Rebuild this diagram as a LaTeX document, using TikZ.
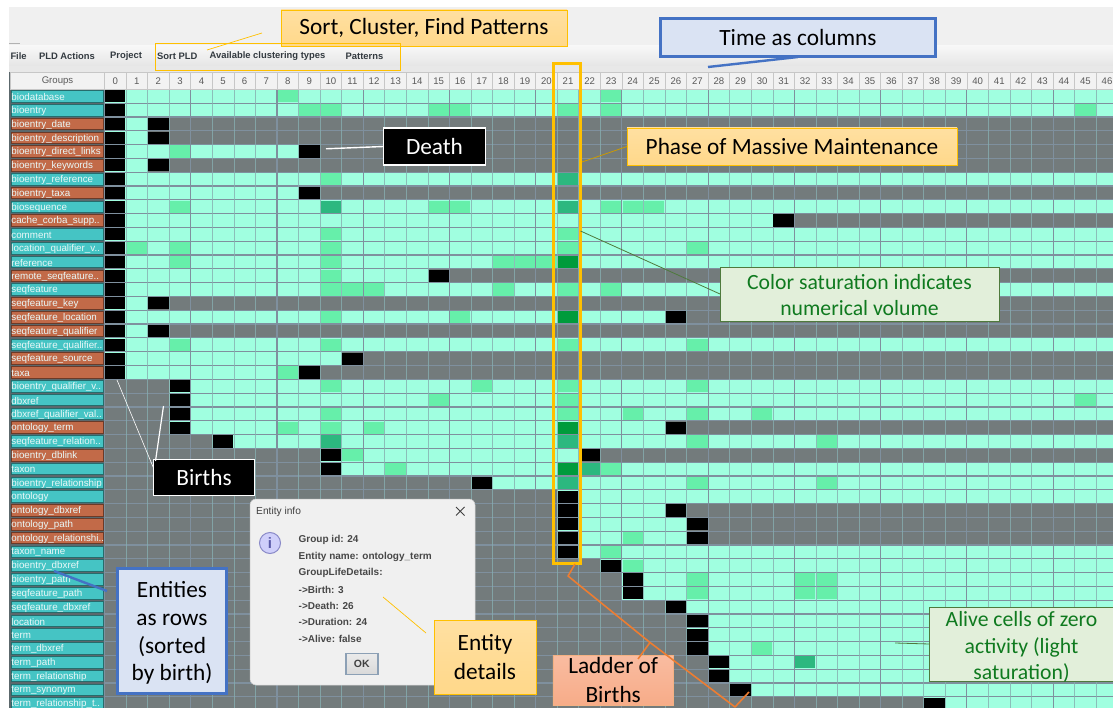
\documentclass[tikz,border=0pt]{standalone}
\usepackage{fontspec}
\setmainfont{Liberation Sans}
\newfontfamily\calloutfont{Carlito}
\usetikzlibrary{calc}
\definecolor{cellgrey}{HTML}{737B7C}
\definecolor{cellb}{HTML}{A0FFE0}
\definecolor{cellm}{HTML}{66EFAA}
\definecolor{celld}{HTML}{2CB87F}
\definecolor{cellg}{HTML}{009B3C}
\definecolor{teallab}{HTML}{45C4C4}
\definecolor{brownlab}{HTML}{C26A48}
\definecolor{gridc}{HTML}{7F909E}
\definecolor{gridfine}{HTML}{86AEB0}
\definecolor{gutter}{HTML}{5C686C}
\definecolor{amber}{HTML}{FFC000}
\definecolor{amberfill}{HTML}{FFD88A}
\definecolor{bluefill}{HTML}{DAE3F3}
\definecolor{blueline}{HTML}{4472C4}
\definecolor{greenfill}{HTML}{E2EFDA}
\definecolor{greentext}{HTML}{0F7A1F}
\definecolor{greenline}{HTML}{4E7A3C}
\definecolor{orangeline}{HTML}{ED7D31}
\definecolor{salmon}{HTML}{F8B090}
\definecolor{dialogbg}{HTML}{F0F0F0}
\definecolor{menutext}{HTML}{333A40}
\definecolor{okborder}{HTML}{8CA0B5}
\definecolor{iconfill}{HTML}{CFCFFA}
\definecolor{iconline}{HTML}{8A8AC8}
\definecolor{iconmark}{HTML}{5A5AA8}
\tikzset{
  labelbox/.style={draw=#1!55!black,line width=0.9pt,fill=#1,minimum width=92pt,minimum height=11.6pt,inner sep=0pt,outer sep=0pt},
  labeltext/.style={text=white!88!teallab,font=\fontsize{9.8}{11}\selectfont,anchor=west,inner sep=0pt},
  headcell/.style={draw=white!78!black,line width=0.6pt,fill=white!95!black,minimum width=21.56pt,minimum height=17pt,inner sep=0pt,text=black!65,font=\fontsize{9.6}{11}\selectfont},
  callout/.style={inner sep=0pt,outer sep=0pt,align=center,font=\calloutfont\fontsize{23.3}{28}\selectfont,text=black},
  amberbox/.style={callout,draw=amber,line width=0.9pt,top color=amberfill!80!white,bottom color=amberfill},
  bluebox/.style={callout,draw=blueline,line width=3pt,fill=bluefill},
  blackbox/.style={callout,draw=white,line width=1.6pt,fill=black,text=white},
  greenbox/.style={callout,draw=greenline,line width=0.8pt,fill=greenfill,text=greentext},
  greentextstyle/.style={callout,text=greentext},
  menuitem/.style={font=\bfseries\fontsize{9.4}{11}\selectfont,text=menutext,anchor=west,inner sep=0pt},
  dialogline/.style={font=\bfseries\fontsize{10}{12}\selectfont,text=black!72,anchor=west,inner sep=0pt},
  thinamber/.style={draw=amber,line width=0.7pt},
}
\begin{document}
\begin{tikzpicture}[x=1pt,y=-1pt]
\useasboundingbox (0,0) rectangle (1113,708);
\clip (0,0) rectangle (1113,708);
\fill[white] (0,0) rectangle (1113,708);
% window chrome
\fill[white!94!black] (9,7) rectangle (1113,72);
\fill[top color=white!97!black,bottom color=white!90!black] (9,46) rectangle (1113,66);
\fill[white!91!black] (9,66) rectangle (1113,72);
\fill[white!70!black] (9,43) rectangle (20,44);
\fill[gutter] (9,72) rectangle (1113,708);
\fill[cellgrey] (104.5,89.5) rectangle (1113,708);
% rows: index / birth / death / name / colour
\foreach \rw/\bn/\dt/\nm/\cl in {
 0/0/99/{biodatabase}/teallab,
 1/0/99/{bioentry}/teallab,
 2/0/2/{bioentry\_date}/brownlab,
 3/0/2/{bioentry\_description}/brownlab,
 4/0/9/{bioentry\_direct\_links}/brownlab,
 5/0/2/{bioentry\_keywords}/brownlab,
 6/0/99/{bioentry\_reference}/teallab,
 7/0/9/{bioentry\_taxa}/brownlab,
 8/0/99/{biosequence}/teallab,
 9/0/31/{cache\_corba\_supp..}/brownlab,
 10/0/99/{comment}/teallab,
 11/0/99/{location\_qualifier\_v..}/teallab,
 12/0/99/{reference}/teallab,
 13/0/15/{remote\_seqfeature..}/brownlab,
 14/0/99/{seqfeature}/teallab,
 15/0/2/{seqfeature\_key}/brownlab,
 16/0/26/{seqfeature\_location}/brownlab,
 17/0/2/{seqfeature\_qualifier}/brownlab,
 18/0/99/{seqfeature\_qualifier..}/teallab,
 19/0/11/{seqfeature\_source}/brownlab,
 20/0/9/{taxa}/brownlab,
 21/3/99/{bioentry\_qualifier\_v..}/teallab,
 22/3/99/{dbxref}/teallab,
 23/3/99/{dbxref\_qualifier\_val..}/teallab,
 24/3/26/{ontology\_term}/brownlab,
 25/5/99/{seqfeature\_relation..}/teallab,
 26/10/22/{bioentry\_dblink}/brownlab,
 27/10/99/{taxon}/teallab,
 28/17/99/{bioentry\_relationship}/teallab,
 29/21/99/{ontology}/teallab,
 30/21/26/{ontology\_dbxref}/brownlab,
 31/21/27/{ontology\_path}/brownlab,
 32/21/27/{ontology\_relationshi..}/brownlab,
 33/21/99/{taxon\_name}/teallab,
 34/23/99/{bioentry\_dbxref}/teallab,
 35/24/99/{bioentry\_path}/teallab,
 36/24/99/{seqfeature\_path}/teallab,
 37/26/99/{seqfeature\_dbxref}/teallab,
 38/27/99/{location}/teallab,
 39/27/99/{term}/teallab,
 40/27/99/{term\_dbxref}/teallab,
 41/28/99/{term\_path}/teallab,
 42/28/99/{term\_relationship}/teallab,
 43/29/99/{term\_synonym}/teallab,
 44/38/99/{term\_relationship\_t..}/teallab}{
  \pgfmathsetmacro\ya{89.5+13.8*\rw}
  \pgfmathsetmacro\yb{\ya+13.8}
  \pgfmathsetmacro\ym{\ya+6.9}
  \pgfmathsetmacro\yt{\ym+0.8}
  \pgfmathsetmacro\xa{104.5+21.56*\bn}
  \pgfmathsetmacro\xb{104.5+21.56*\dt}
  \fill[cellb] (\xa,\ya) rectangle (\xb,\yb);
  \node[labelbox=\cl] (lab\rw) at (57,\ym) {};
  \node[labeltext] (txt\rw) at (11.2,\yt) {\nm};
}
% grid
\foreach \rw in {0,...,45}{
  \pgfmathsetmacro\ya{89.5+13.8*\rw}
  \draw[gridc,line width=1.2pt] (104.5,\ya) -- (1113,\ya);
}
\foreach \cn in {0,...,47}{
  \pgfmathsetmacro\xa{104.5+21.56*\cn}
  \pgfmathtruncatemacro\md{mod(\cn,4)}
  \ifnum\md=0
    \draw[gridc,line width=1.1pt] (\xa,89.5) -- (\xa,708);
  \else
    \draw[gridfine,line width=0.7pt,opacity=0.8] (\xa,89.5) -- (\xa,708);
  \fi
}
% coloured cells: row / col / colour
\foreach \rw/\cn/\sh in {
 0/8/cellm,0/23/cellm,
 1/9/cellm,1/10/cellm,1/15/cellm,1/16/cellm,1/21/cellm,1/23/cellm,1/45/cellm,
 4/3/cellm,
 6/10/cellm,6/21/celld,
 8/3/cellm,8/10/celld,8/15/cellm,8/16/cellm,8/21/celld,8/23/cellm,8/24/cellm,8/25/cellm,
 10/10/cellm,10/21/cellm,
 11/1/cellm,11/3/cellm,11/10/cellm,11/21/cellm,11/27/cellm,
 12/3/cellm,12/10/cellm,12/18/cellm,12/19/cellm,12/20/cellm,12/21/cellg,
 13/10/cellm,
 14/10/cellm,14/11/cellm,14/12/cellm,14/18/cellm,14/21/cellm,14/23/cellm,
 16/10/cellm,16/16/cellm,16/21/cellg,
 18/3/cellm,18/10/cellm,18/21/cellm,18/27/cellm,
 20/8/cellm,
 21/10/cellm,21/17/cellm,21/21/cellm,21/27/cellm,
 22/15/cellm,22/21/cellm,22/45/cellm,
 23/10/cellm,23/21/cellm,23/24/cellm,23/27/cellm,23/30/cellm,
 24/8/cellm,24/10/cellm,24/12/cellm,24/21/cellg,
 25/10/celld,25/21/celld,25/27/cellm,25/33/cellm,
 26/11/cellm,
 27/13/cellm,27/21/cellg,27/22/celld,27/23/cellm,
 28/21/celld,28/27/cellm,28/33/cellm,
 32/24/cellm,33/23/cellm,34/24/cellm,
 35/27/cellm,35/32/cellm,35/33/cellm,
 36/27/cellm,36/32/cellm,36/33/cellm,
 40/30/cellm,41/32/celld,
 %% black: births and deaths
 0/0/black,1/0/black,2/0/black,3/0/black,4/0/black,5/0/black,6/0/black,7/0/black,8/0/black,9/0/black,
 10/0/black,11/0/black,12/0/black,13/0/black,14/0/black,15/0/black,16/0/black,17/0/black,18/0/black,19/0/black,20/0/black,
 2/2/black,3/2/black,5/2/black,15/2/black,17/2/black,
 4/9/black,7/9/black,20/9/black,9/31/black,13/15/black,16/26/black,19/11/black,
 21/3/black,22/3/black,23/3/black,24/3/black,24/26/black,25/5/black,
 26/10/black,26/22/black,27/10/black,28/17/black,
 29/21/black,30/21/black,31/21/black,32/21/black,33/21/black,
 30/26/black,31/27/black,32/27/black,
 34/23/black,35/24/black,36/24/black,37/26/black,
 38/27/black,39/27/black,40/27/black,41/28/black,42/28/black,43/29/black,44/38/black}{
  \pgfmathsetmacro\xa{104.5+21.56*\cn+0.6}
  \pgfmathsetmacro\xb{\xa+20.36}
  \pgfmathsetmacro\ya{89.5+13.8*\rw+0.8}
  \pgfmathsetmacro\yb{\ya+12.2}
  \fill[\sh] (\xa,\ya) rectangle (\xb,\yb);
}
% header
\node[headcell,minimum width=93.5pt] (groupshead) at (57.5,80.8) {Groups};
\foreach \cn in {0,...,46}{
  \pgfmathsetmacro\xa{104.5+21.56*\cn+10.78}
  \node[headcell] (head\cn) at (\xa,80.8) {\cn};
}
% menu
\node[menuitem] (mFile) at (10.3,56.5) {File};
\node[menuitem] (mPLD) at (38.8,56.5) {PLD Actions};
\node[menuitem] (mProject) at (110,56.5) {Project};
\node[menuitem] (mSort) at (157,56.5) {Sort PLD};
\node[menuitem] (mClust) at (209.5,56.5) {Available clustering types};
\node[menuitem] (mPatt) at (345.5,56.5) {Patterns};
% dialog
\fill[dialogbg,draw=white!80!black,line width=0.5pt,rounded corners=6pt] (250,499) rectangle (475,685);
\node[font=\fontsize{10.2}{12}\selectfont,text=black!75,anchor=west,inner sep=0pt] (dlgTitle) at (256,511.5) {Entity info};
\draw[black!75,line width=0.9pt] (456,507) -- (464.5,515.5) (464.5,507) -- (456,515.5);
\node[circle,draw=iconline,line width=1pt,fill=iconfill,minimum size=21pt,inner sep=0pt,text=iconmark,font=\bfseries\fontsize{15}{15}\selectfont] (dlgIcon) at (270,543) {i};
\node[dialogline] (dl1) at (298.5,540) {Group id: 24};
\node[dialogline] (dl2) at (298.5,556.7) {Entity name: ontology\_term};
\node[dialogline] (dl3) at (298.5,573.2) {GroupLifeDetails:};
\node[dialogline] (dl4) at (298.5,589.8) {->Birth: 3};
\node[dialogline] (dl5) at (298.5,606) {->Death: 26};
\node[dialogline] (dl6) at (298.5,622.3) {->Duration: 24};
\node[dialogline] (dl7) at (298.5,639) {->Alive: false};
\node[draw=okborder,line width=1.5pt,top color=white!92!black,bottom color=white!85!black,minimum width=32pt,minimum height=21pt,inner sep=0pt,font=\bfseries\fontsize{10.5}{12}\selectfont,text=black!75] (dlgOk) at (361.8,664) {OK};
% annotation boxes
\node[amberbox,minimum width=286pt,minimum height=36pt] (sortBox) at (424,28) {Sort, Cluster, Find Patterns};
\draw[thinamber] (155,43.5) rectangle (400,70);
\coordinate (sortTipA) at (207,50);
\coordinate (sortTipB) at (262,33);
\draw[thinamber] (sortTipA) -- (sortTipB);

\node[bluebox,minimum width=275pt,minimum height=38pt] (timeBox) at (798,38) {Time as columns};
\coordinate (timeTip) at (708,67);
\draw[blueline,line width=2.4pt] (timeBox.south) -- (timeTip);

\draw[amber,line width=3pt] (553,64) rectangle (580.5,563);

\node[amberbox,minimum width=330pt,minimum height=37pt] (phaseBox) at (792,146.5) {Phase of Massive Maintenance};
\coordinate (phaseTip) at (582,162);
\draw[amber!80!black,line width=0.8pt] (phaseTip) -- (phaseBox.west);

\node[blackbox,minimum width=102pt,minimum height=37pt] (deathBox) at (434.5,146.5) {Death};
\coordinate (deathTip) at (326,148.8);
\draw[white,line width=1.4pt] (deathTip) -- (deathBox.west);

\node[blackbox,minimum width=101pt,minimum height=36pt] (birthsBox) at (204,477.5) {Births};
\coordinate (birthsTipA) at (117,380);
\coordinate (birthsEndA) at (153.5,468);
\coordinate (birthsTipB) at (163.5,406);
\coordinate (birthsEndB) at (155.5,461);
\draw[white,line width=0.6pt] (birthsTipA) -- (birthsEndA);
\draw[white,line width=1.2pt] (birthsTipB) -- (birthsEndB);

\node[bluebox,minimum width=109pt,minimum height=125pt] (rowsBox) at (172,631) {};
\node[callout,font=\calloutfont\fontsize{23.3}{27.8}\selectfont] (rowsText) at (172,633) {Entities\\as rows\\(sorted\\by birth)};
\coordinate (rowsTipA) at (54,571);
\coordinate (rowsTipB) at (107,591);
\draw[blueline,line width=2.4pt] (rowsTipA) -- (rowsTipB);

\node[amberbox,minimum width=102pt,minimum height=74pt,font=\calloutfont\fontsize{23.3}{28.5}\selectfont] (detailBox) at (485,657) {Entity\\details};
\coordinate (detailTipA) at (383,597);
\coordinate (detailTipB) at (426,633);
\draw[thinamber] (detailTipA) -- (detailTipB);

\node[greenbox,minimum width=279pt,minimum height=54pt] (satBox) at (859.5,294) {};
\node[greentextstyle,font=\calloutfont\fontsize{21.7}{26.5}\selectfont] (satText) at (859.5,295) {Color saturation indicates\\numerical volume};
\coordinate (satTip) at (580.5,231);
\draw[greenline,line width=0.8pt] (satTip) -- (satBox.west);

\node[greenbox,minimum width=190pt,minimum height=74pt] (aliveBox) at (1024.5,644) {};
\node[greentextstyle,font=\calloutfont\fontsize{21.7}{26.2}\selectfont] (aliveText) at (1021.5,647) {Alive cells of zero\\activity (light\\saturation)};
\coordinate (aliveTip) at (895,643);
\draw[greenline,line width=0.8pt] (aliveTip) -- (aliveBox.west);

\node[callout,draw=orangeline!60!white,line width=0.8pt,top color=salmon!85!white,bottom color=salmon!92!orangeline,minimum width=120.5pt,minimum height=50pt,font=\calloutfont\fontsize{23.3}{28.5}\selectfont] (ladderBox) at (613.2,680) {Ladder of\\Births};
\coordinate (brA) at (575,564);
\coordinate (brB) at (568,576);
\coordinate (brMid) at (650,642.5);
\coordinate (brTip) at (638,659);
\coordinate (brC) at (735,707);
\coordinate (brD) at (749,692);
\draw[orangeline,line width=1.6pt,line join=round] (brA) -- (brB) -- (brMid) -- (brC) -- (brD);
\draw[orangeline,line width=1.6pt] (brMid) -- (brTip);
\end{tikzpicture}
\end{document}
